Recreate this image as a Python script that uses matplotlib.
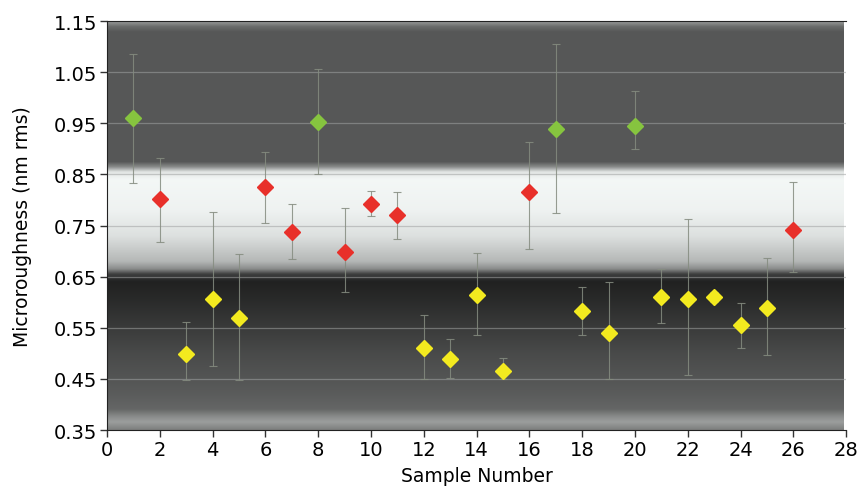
import numpy as np
import matplotlib
matplotlib.use("Agg")
import matplotlib.pyplot as plt

# sample number, mean roughness, error bar bottom/top (nm rms), colour group
sample = [1, 2, 3, 4, 5, 6, 7, 8, 9, 10, 11, 12, 13,
          14, 15, 16, 17, 18, 19, 20, 21, 22, 23, 24, 25, 26]
rough = [0.960, 0.801, 0.499, 0.607, 0.570, 0.825, 0.738, 0.952, 0.699, 0.793,
         0.770, 0.511, 0.489, 0.615, 0.466, 0.815, 0.938, 0.583, 0.540, 0.944,
         0.611, 0.607, 0.611, 0.556, 0.589, 0.742]
err_low = [0.834, 0.717, 0.448, 0.475, 0.448, 0.754, 0.685, 0.850, 0.620, 0.768,
           0.723, 0.450, 0.452, 0.536, 0.450, 0.705, 0.775, 0.536, 0.450, 0.899,
           0.560, 0.458, 0.600, 0.511, 0.497, 0.660]
err_high = [1.085, 0.883, 0.562, 0.777, 0.695, 0.893, 0.793, 1.056, 0.785, 0.817,
            0.815, 0.575, 0.528, 0.697, 0.490, 0.913, 1.105, 0.630, 0.640, 1.013,
            0.664, 0.762, 0.620, 0.599, 0.687, 0.836]
group = ["g", "r", "y", "y", "y", "r", "r", "g", "r", "r", "r", "y", "y",
         "y", "y", "r", "g", "y", "y", "g", "y", "y", "y", "y", "y", "r"]

colors = {"g": "#86c43f", "r": "#e8302a", "y": "#f3ea1f"}

plt.rcParams["font.family"] = ["DejaVu Sans"]

fig = plt.figure(figsize=(8.59, 4.89), dpi=100)
ax = fig.add_axes([0.1246, 0.1186, 0.8604, 0.8364])

# shaded background bands (grey level vs. roughness)
bg_y = [0.35, 0.365, 0.375, 0.39, 0.42, 0.50, 0.60, 0.64, 0.655, 0.665, 0.68,
        0.73, 0.78, 0.84, 0.855, 0.865, 0.875, 1.13, 1.14, 1.15]
bg_g = [0.50, 0.62, 0.55, 0.40, 0.36, 0.29, 0.17, 0.13, 0.25, 0.55, 0.72,
        0.88, 0.95, 0.97, 0.90, 0.55, 0.345, 0.345, 0.42, 0.60]
yy = np.linspace(0.35, 1.15, 400)
g = np.interp(yy, bg_y, bg_g)
img = np.stack([g * 0.985, g * 1.0, g * 0.995], axis=-1)[:, None, :]
ax.imshow(img, extent=[0, 27.9, 0.35, 1.15], origin="lower", aspect="auto",
          interpolation="bilinear", zorder=0)

for v in np.arange(0.45, 1.10, 0.1):
    ax.axhline(v, color="#a0a2a2", lw=0.9, alpha=0.55, zorder=1)

for x, y, lo, hi, gr in zip(sample, rough, err_low, err_high, group):
    ax.errorbar(x, y, yerr=[[y - lo], [hi - y]], fmt="none", ecolor="#858c80",
                elinewidth=0.8, capsize=3, capthick=0.8, alpha=0.85, zorder=2)
    ax.plot(x, y, marker="D", ms=8.5, color=colors[gr], mec=colors[gr], zorder=3)

ax.set_xlim(0, 28)
ax.set_ylim(0.35, 1.15)
ax.set_xticks(range(0, 29, 2))
ax.set_yticks(np.round(np.arange(0.35, 1.16, 0.1), 2))
ax.set_yticklabels([f"{v:.2f}" for v in np.arange(0.35, 1.16, 0.1)])
ax.tick_params(labelsize=14, length=5, width=1, color="#333333", pad=2)
ax.set_xlabel("Sample Number", fontsize=13.5, labelpad=5)
ax.set_ylabel("Microroughness (nm rms)", fontsize=13.5, labelpad=16)
for s in ["top", "left", "bottom"]:
    ax.spines[s].set_color("#222222")
ax.spines["right"].set_visible(False)

fig.savefig("out.png", dpi=100)
